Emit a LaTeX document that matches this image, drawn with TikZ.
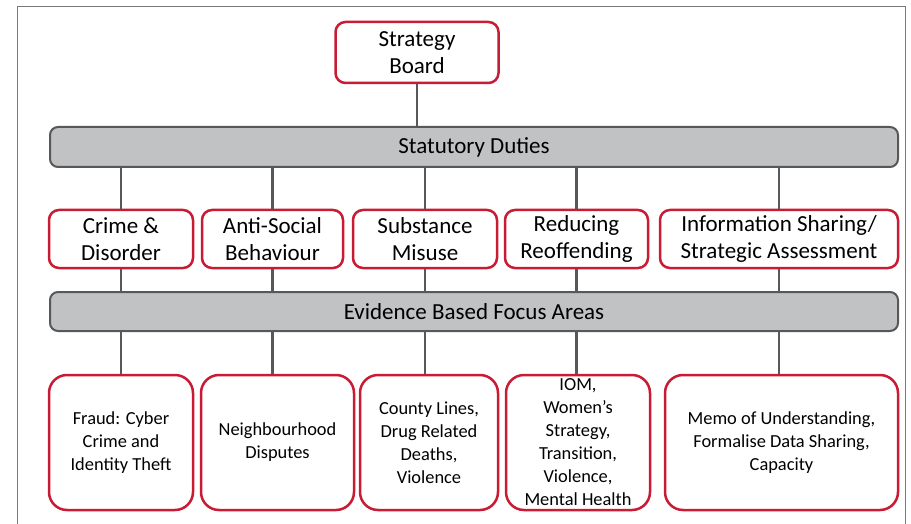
\documentclass[tikz,border=0pt]{standalone}
\usepackage{fontspec}
\setmainfont{Carlito}
\usepackage{tikz}
\definecolor{R}{RGB}{200, 28, 52}
\definecolor{Gb}{RGB}{192, 194, 196}
\definecolor{Gl}{RGB}{88, 88, 88}

\tikzset{
  cajaroja/.style={draw=R, line width=2.5pt, fill=white, rounded corners=10pt,
    align=center, inner sep=0pt, font=\fontsize{23}{27.5}\selectfont},
  cajafoco/.style={cajaroja, rounded corners=18pt, font=\fontsize{18.4}{23}\selectfont},
  barra/.style={draw=Gl, line width=2pt, fill=Gb, rounded corners=8pt,
    minimum width=848pt, minimum height=40pt, inner sep=0pt,
    font=\fontsize{23}{27}\selectfont},
  linea/.style={draw=Gl, line width=2.5pt}
}

\begin{document}
\begin{tikzpicture}[x=1pt, y=-1pt]
    \useasboundingbox (0,0) rectangle (911,524);
    \fill[white] (0,0) rectangle (911,524);
    % marco exterior
    \draw[color=Gl!80, line width=1pt] (17,7) rectangle (905,540);

    % Nivel superior
    \node[cajaroja, minimum width=163pt, minimum height=61pt] (board) at (417,52.5) {Strategy\\Board};
    \node[barra] (statutory) at (474,147) {Statutory Duties};

    % Deberes legales
    \node[cajaroja, minimum width=144pt, minimum height=58pt] (crime) at (121,239) {Crime \&\\Disorder};
    \node[cajaroja, minimum width=141pt, minimum height=58pt] (asb) at (272.5,239) {Anti-Social\\Behaviour};
    \node[cajaroja, minimum width=144pt, minimum height=58pt] (subst) at (425,239) {Substance\\Misuse};
    \node[cajaroja, minimum width=143pt, minimum height=58pt] (reoff) at (576.5,239) {Reducing\\Reoffending};
    \node[cajaroja, minimum width=238pt, minimum height=58pt] (info) at (779,239) {Information Sharing/\\Strategic Assessment};

    \node[barra, minimum height=39pt] (evidence) at (474,311.5) {Evidence Based Focus Areas};

    % Areas de enfoque
    \node[cajafoco, minimum width=144pt, minimum height=135pt] (fraud) at (121,442.5) {Fraud: Cyber\\Crime and\\Identity Theft};
    \node[cajafoco, minimum width=153pt, minimum height=135pt] (neigh) at (277.5,442.5) {Neighbourhood\\Disputes};
    \node[cajafoco, minimum width=138pt, minimum height=135pt] (county) at (429,442.5) {County Lines,\\Drug Related\\Deaths,\\Violence};
    \node[cajafoco, minimum width=144pt, minimum height=135pt] (iom) at (578,442.5) {IOM,\\Women’s\\Strategy,\\Transition,\\Violence,\\Mental Health};
    \node[cajafoco, minimum width=233pt, minimum height=135pt] (memo) at (781.5,442.5) {Memo of Understanding,\\Formalise Data Sharing,\\Capacity};

    % Conectores
    \draw[linea] (board.south) -- (board.south |- statutory.north);
    \foreach \d/\f in {crime/fraud, asb/neigh, subst/county, reoff/iom, info/memo}{
      \draw[linea] (statutory.south -| \d.north) -- (\d.north);
      \draw[linea] (\d.south) -- (\d.south |- evidence.north);
      \draw[linea] (evidence.south -| \d.south) -- (\d.south |- \f.north);
    }
\end{tikzpicture}
\end{document}
